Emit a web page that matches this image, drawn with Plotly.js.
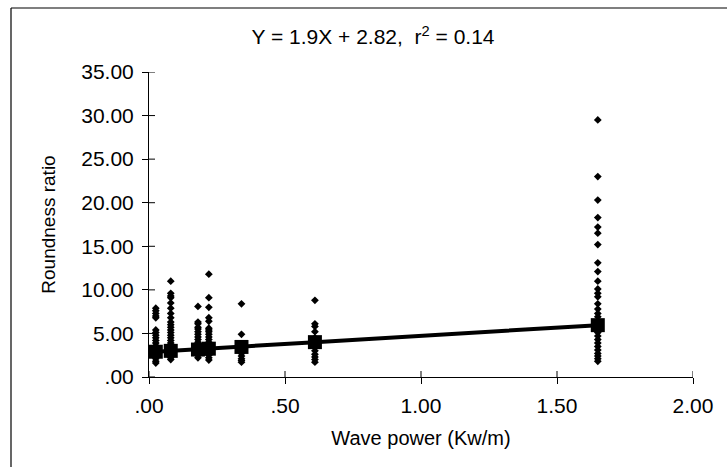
<!DOCTYPE html>
<html>
<head>
<meta charset="utf-8">
<script src="https://cdn.plot.ly/plotly-3.0.1.min.js"></script>
<style>html,body{margin:0;padding:0;background:#fff}#chart{width:727px;height:467px}</style>
</head>
<body>
<div id="chart"></div>
<script>
// Wave power levels (Kw/m) at which samples were taken
const powerLevels = [0.025, 0.08, 0.18, 0.22, 0.34, 0.61, 1.65];
const ratiosP1 = [7.9, 7.6, 7.3, 7.0, 6.8, 5.4, 5.1, 4.8, 4.5, 4.2, 3.9, 3.6, 3.3, 3.0, 2.7, 2.4, 2.1, 1.8, 1.6];
const ratiosP2 = [11.0, 9.6, 9.3, 9.1, 8.5, 7.9, 7.3, 6.8, 6.3, 6.0, 5.7, 5.4, 5.1, 4.8, 4.5, 4.2, 3.9, 3.6, 3.3, 3.0, 2.7, 2.4, 2.2, 2.0];
const ratiosP3 = [8.1, 6.3, 6.1, 5.7, 5.5, 5.2, 4.9, 4.6, 4.3, 4.0, 3.7, 3.4, 3.1, 2.8, 2.5, 2.2];
const ratiosP4 = [11.8, 9.1, 8.0, 6.8, 6.4, 5.6, 5.4, 5.2, 4.9, 4.6, 4.3, 4.0, 3.7, 3.4, 3.1, 2.8, 2.5, 2.2, 1.95];
const ratiosP5 = [8.4, 4.9, 3.5, 2.7, 2.4, 2.1, 1.9, 1.7];
const ratiosP6 = [8.8, 6.1, 5.8, 5.2, 4.5, 3.5, 3.0, 2.6, 2.3, 2.0, 1.7];
const ratiosP7 = [29.5, 23.0, 20.3, 18.3, 17.2, 16.5, 15.2, 13.1, 12.1, 11.0, 10.1, 9.6, 9.2, 8.4, 7.8, 7.3, 6.9, 6.4, 5.9, 5.5, 5.1, 4.7, 4.3, 3.9, 3.5, 3.1, 2.7, 2.4, 2.1, 1.8];
// Fitted values at each power level (squares on regression line)
const fittedRatios = [2.9, 3.0, 3.15, 3.25, 3.45, 4.0, 5.95];
// Tick labels
const yTickVals = [0, 5, 10, 15, 20, 25, 30, 35];
const yTickText = ['.00', '5.00', '10.00', '15.00', '20.00', '25.00', '30.00', '35.00'];
const xTickVals = [0, 0.5, 1, 1.5, 2];
const xTickText = ['.00', '.50', '1.00', '1.50', '2.00'];

const groups = [ratiosP1, ratiosP2, ratiosP3, ratiosP4, ratiosP5, ratiosP6, ratiosP7];
const sx = [], sy = [];
groups.forEach((g, i) => g.forEach(v => { sx.push(powerLevels[i]); sy.push(v); }));

const font = {family: 'Liberation Sans, Arial, sans-serif', color: '#000'};
const f = s => Object.assign({size: s}, font);

const traces = [
  {x: sx, y: sy, type: 'scatter', mode: 'markers', cliponaxis: false,
   marker: {symbol: 'diamond', size: 6, color: '#000'}, hoverinfo: 'x+y'},
  {x: powerLevels, y: fittedRatios, type: 'scatter', mode: 'lines+markers', cliponaxis: false,
   line: {color: '#000', width: 4}, marker: {symbol: 'square', size: 14, color: '#000'}}
];

const L = 149, R = 693, T = 72, B = 377;
const px = v => (v - L) / (R - L);
const py = v => (B - v) / (B - T);

// inner half of the crossing tick marks, placed at the axis tick values
const innerTicks = [];
yTickVals.forEach(v => innerTicks.push({type: 'line', xref: 'paper', yref: 'y', xsizemode: 'pixel', xanchor: 0,
  x0: 0, x1: 6, y0: v, y1: v, line: {color: '#000', width: 1}}));
xTickVals.forEach(v => innerTicks.push({type: 'line', xref: 'x', yref: 'paper', ysizemode: 'pixel', yanchor: 0,
  x0: v, x1: v, y0: 0, y1: 6, line: {color: '#000', width: 1}}));

const layout = {
  width: 727, height: 467,
  margin: {l: L, r: 727 - R, t: T, b: 467 - B},
  paper_bgcolor: '#fff', plot_bgcolor: '#fff',
  showlegend: false,
  font: f(20),
  title: {text: 'Y = 1.9X + 2.82,  r<sup>2</sup> = 0.14', font: f(21),
          xref: 'container', yref: 'container', x: 373 / 727, xanchor: 'center', y: 1 - 37 / 467, yanchor: 'middle'},
  xaxis: {range: [0, 2], tickvals: xTickVals, ticktext: xTickText, showgrid: false, zeroline: false,
          showline: true, linecolor: '#000', linewidth: 1, ticks: 'outside', ticklen: 6, tickcolor: '#000', tickwidth: 1,
          tickfont: f(21), ticklabelstandoff: 4,
          title: {text: 'Wave power (Kw/m)', font: f(20), standoff: 14}},
  yaxis: {range: [0, 35], tickvals: yTickVals, ticktext: yTickText, showgrid: false, zeroline: false,
          showline: true, linecolor: '#000', linewidth: 1, ticks: 'outside', ticklen: 6, tickcolor: '#000', tickwidth: 1,
          tickfont: f(21), ticklabelstandoff: 4,
          title: {text: 'Roundness ratio', font: f(19), standoff: 20}},
  shapes: [
    {type: 'line', xref: 'paper', yref: 'paper', x0: px(11), x1: px(740), y0: py(8), y1: py(8), line: {color: '#000', width: 1.2}},
    {type: 'line', xref: 'paper', yref: 'paper', x0: px(11), x1: px(11), y0: py(8), y1: py(480), line: {color: '#000', width: 1.2}}
  ].concat(innerTicks)
};

Plotly.newPlot('chart', traces, layout, {displayModeBar: false, staticPlot: true});
</script>
</body>
</html>
